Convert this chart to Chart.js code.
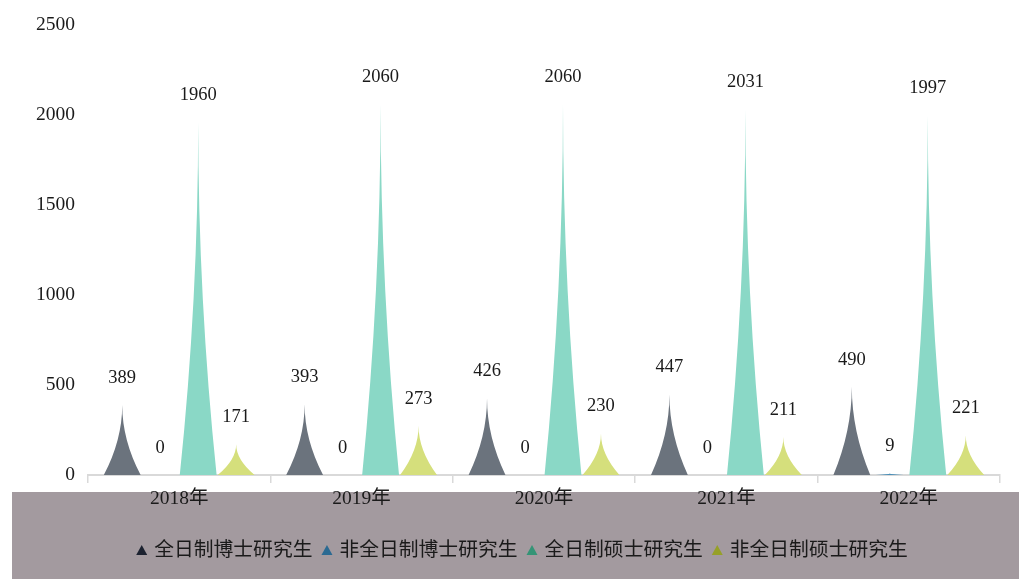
<!DOCTYPE html>
<html>
<head>
<meta charset="utf-8">
<script src="https://cdn.jsdelivr.net/npm/chart.js@4"></script>
<style>
  body { margin: 0; background: #fff; }
  #wrap { width: 1019px; height: 579px; position: relative; }
</style>
</head>
<body>
<div id="wrap"><canvas id="chart"></canvas></div>
<script>
const years = ["2018年", "2019年", "2020年", "2021年", "2022年"];
const seriesNames = ["全日制博士研究生", "非全日制博士研究生", "全日制硕士研究生", "非全日制硕士研究生"];
const fullDoctor = [389, 393, 426, 447, 490];
const partDoctor = [0, 0, 0, 0, 9];
const fullMaster = [1960, 2060, 2060, 2031, 1997];
const partMaster = [171, 273, 230, 211, 221];
const yTicks = [0, 500, 1000, 1500, 2000, 2500];

const spikeColors = ["#6b737d", "#4a8fb8", "#8ad8c6", "#d5df7c"];
const legendColors = ["#1c2230", "#2b6a92", "#349476", "#96a028"];

const serif = "'Liberation Serif', 'Noto Sans CJK SC', serif";

// draws the sharp peak shapes instead of plain bars, plus the value labels
const spikePlugin = {
  id: "spikes",
  beforeDraw(chart) {
    const ctx = chart.ctx;
    ctx.save();
    ctx.fillStyle = "#a39a9f";
    ctx.fillRect(12, 492, chart.width - 12, chart.height - 492);
    ctx.restore();
  },
  beforeDatasetDraw() {
    return false;
  },
  afterDatasetsDraw(chart) {
    const ctx = chart.ctx;
    ctx.save();
    chart.data.datasets.forEach((ds, i) => {
      const meta = chart.getDatasetMeta(i);
      meta.data.forEach((el, j) => {
        const hw = el.width / 2 * 0.97;
        const h = el.base - el.y;
        if (h > 0) {
          ctx.beginPath();
          ctx.moveTo(el.x - hw, el.base);
          ctx.quadraticCurveTo(el.x, el.base - h / 2, el.x, el.y);
          ctx.quadraticCurveTo(el.x, el.base - h / 2, el.x + hw, el.base);
          ctx.closePath();
          ctx.fillStyle = spikeColors[i];
          ctx.fill();
        }
        ctx.fillStyle = "#1a1a1a";
        ctx.font = "18.5px " + serif;
        ctx.textAlign = "center";
        ctx.textBaseline = "middle";
        ctx.fillText(String(ds.data[j]), el.x, el.y - 27);
      });
    });
    ctx.restore();
  },
  afterDraw(chart) {
    // legend inside the grey band
    const ctx = chart.ctx;
    ctx.save();
    ctx.font = "19.8px 'Noto Sans CJK SC', sans-serif";
    ctx.textBaseline = "middle";
    ctx.textAlign = "left";
    const markW = 11, gapIn = 7, gapOut = 9;
    const widths = seriesNames.map(s => ctx.measureText(s).width);
    let total = 0;
    widths.forEach((w, i) => { total += markW + gapIn + w + (i < widths.length - 1 ? gapOut : 0); });
    let x = 522 - total / 2;
    const cy = 548;
    seriesNames.forEach((s, i) => {
      ctx.beginPath();
      ctx.moveTo(x, cy + 7);
      ctx.lineTo(x + markW / 2, cy - 3);
      ctx.lineTo(x + markW, cy + 7);
      ctx.closePath();
      ctx.fillStyle = legendColors[i];
      ctx.fill();
      x += markW + gapIn;
      ctx.fillStyle = "#1a1a1a";
      ctx.fillText(s, x, cy);
      x += widths[i] + gapOut;
    });
    ctx.restore();
  }
};

new Chart(document.getElementById("chart"), {
  type: "bar",
  data: {
    labels: years,
    datasets: [
      { label: seriesNames[0], data: fullDoctor, backgroundColor: spikeColors[0] },
      { label: seriesNames[1], data: partDoctor, backgroundColor: spikeColors[1] },
      { label: seriesNames[2], data: fullMaster, backgroundColor: spikeColors[2] },
      { label: seriesNames[3], data: partMaster, backgroundColor: spikeColors[3] }
    ]
  },
  options: {
    responsive: true,
    maintainAspectRatio: false,
    animation: false,
    categoryPercentage: 0.833,
    barPercentage: 1,
    layout: { padding: { top: 25, right: 19, bottom: 74, left: 0 } },
    plugins: {
      legend: { display: false },
      tooltip: { enabled: false }
    },
    scales: {
      x: {
        grid: { display: true, drawOnChartArea: false, drawTicks: true, tickLength: 8, color: "#d9d9d9", lineWidth: 1.5, offset: true },
        border: { display: true, color: "#d9d9d9", width: 2 },
        ticks: { color: "#1a1a1a", font: { size: 19.5, family: serif }, padding: 4 },
        afterFit: (scale) => { scale.height = 30; }
      },
      y: {
        min: 0,
        max: 2500,
        afterBuildTicks: (scale) => { scale.ticks = yTicks.map(v => ({ value: v })); },
        grid: { display: false },
        border: { display: false },
        ticks: { color: "#1a1a1a", font: { size: 19.5, family: serif }, padding: 5, callback: (v) => String(v) },
        afterFit: (scale) => { scale.width = 88; }
      }
    }
  },
  plugins: [spikePlugin]
});
</script>
</body>
</html>
